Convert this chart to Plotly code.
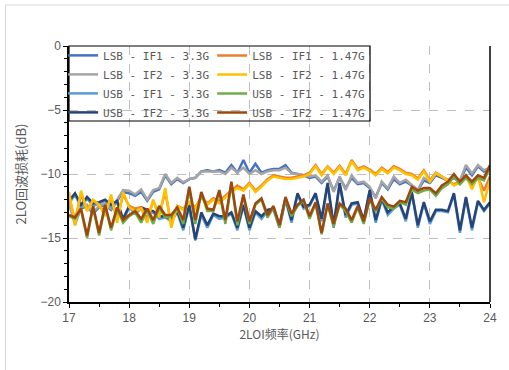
import plotly.graph_objects as go

freq = [17.0, 17.1, 17.2, 17.3, 17.4, 17.5, 17.6, 17.7, 17.8, 17.9,
        18.0, 18.1, 18.2, 18.3, 18.4, 18.5, 18.6, 18.7, 18.8, 18.9,
        19.0, 19.1, 19.2, 19.3, 19.4, 19.5, 19.6, 19.7, 19.8, 19.9,
        20.0, 20.1, 20.2, 20.3, 20.4, 20.5, 20.6, 20.7, 20.8, 20.9,
        21.0, 21.1, 21.2, 21.3, 21.4, 21.5, 21.6, 21.7, 21.8, 21.9,
        22.0, 22.1, 22.2, 22.3, 22.4, 22.5, 22.6, 22.7, 22.8, 22.9,
        23.0, 23.1, 23.2, 23.3, 23.4, 23.5, 23.6, 23.7, 23.8, 23.9,
        24.0]

lsb_if1_33 = [-12.3, -13.8, -12.7, -12.5, -13.1, -12.6, -12.4, -12.8, -12.1, -11.4,
              -11.5, -11.7, -11.4, -12.1, -11.4, -11.2, -10.1, -10.8, -10.4, -10.7,
              -10.4, -10.3, -9.8, -9.7, -9.8, -9.7, -9.9, -9.3, -9.9, -8.9,
              -9.9, -9.2, -9.9, -9.7, -9.6, -9.6, -9.3, -9.9, -10.0, -10.1,
              -10.3, -10.2, -10.7, -10.2, -11.3, -10.3, -11.1, -10.3, -10.8, -10.7,
              -11.1, -11.8, -10.7, -11.2, -10.4, -10.8, -10.6, -10.9, -11.3, -10.5,
              -10.7, -10.1, -10.3, -10.5, -10.3, -10.6, -9.5, -10.1, -9.4, -9.8,
              -9.6]
lsb_if2_33 = [-12.2, -14.0, -12.6, -12.4, -13.0, -12.5, -12.3, -12.7, -12.0, -11.25,
              -11.3, -11.6, -11.2, -12.0, -11.25, -11.1, -10.0, -10.7, -10.3, -10.65,
              -10.4, -10.3, -9.8, -9.8, -9.8, -9.8, -10.0, -9.5, -9.9, -9.5,
              -10.0, -9.7, -10.0, -9.8, -9.7, -9.7, -9.5, -9.95, -10.0, -10.1,
              -10.2, -10.1, -10.6, -10.1, -11.4, -10.2, -11.25, -10.1, -10.7, -10.6,
              -11.0, -11.9, -10.6, -11.1, -10.2, -10.7, -10.45, -10.86, -11.25, -10.3,
              -10.6, -9.95, -10.2, -10.45, -10.2, -10.5, -9.3, -9.95, -9.3, -9.7,
              -9.5]
usb_if1_33 = [-12.3, -11.6, -12.6, -11.9, -12.5, -12.3, -12.1, -12.6, -12.2, -13.7,
              -12.6, -13.1, -12.7, -13.0, -13.0, -13.5, -13.4, -13.7, -13.0, -14.4,
              -12.5, -15.2, -13.2, -14.2, -13.2, -13.5, -13.4, -13.1, -14.4, -12.5,
              -14.4, -13.0, -13.5, -12.9, -12.8, -14.2, -12.0, -13.8, -11.6, -12.7,
              -12.5, -11.6, -13.7, -10.8, -14.2, -10.8, -13.4, -12.4, -12.3, -13.8,
              -11.4, -13.8, -12.0, -13.2, -12.7, -12.4, -13.7, -11.5, -14.2, -12.3,
              -13.9, -12.9, -12.9, -13.0, -11.6, -14.6, -11.9, -14.4, -12.2, -12.9,
              -12.3]
usb_if2_33 = [-12.1, -11.5, -12.4, -11.8, -12.3, -12.2, -12.0, -12.4, -12.1, -13.5,
              -12.5, -12.9, -12.6, -12.8, -12.9, -13.3, -13.3, -13.5, -12.9, -14.2,
              -12.4, -15.1, -13.0, -14.0, -13.1, -13.3, -13.3, -13.0, -14.2, -12.4,
              -14.2, -12.9, -13.3, -12.8, -12.7, -14.0, -11.9, -13.6, -11.5, -12.55,
              -12.4, -11.5, -13.5, -10.7, -14.0, -10.7, -13.2, -12.3, -12.2, -13.6,
              -11.25, -13.6, -11.9, -13.0, -12.55, -12.3, -13.5, -11.4, -14.0, -12.2,
              -13.7, -12.8, -12.8, -12.9, -11.5, -14.4, -11.8, -14.2, -12.1, -12.8,
              -12.2]
lsb_if1_147 = [-11.8, -13.6, -11.6, -12.8, -12.1, -12.4, -13.1, -11.8, -13.5, -11.6,
               -12.5, -12.7, -12.6, -13.5, -12.1, -13.2, -11.4, -13.9, -12.5, -12.7,
               -12.2, -12.6, -11.8, -12.3, -11.9, -12.1, -11.7, -11.3, -10.9, -11.2,
               -10.7, -11.3, -10.9, -10.4, -10.1, -10.2, -10.3, -10.3, -10.2, -10.1,
               -9.9, -9.3, -10.0, -9.4, -9.9, -9.35, -10.0, -8.9, -9.6, -9.4,
               -9.65, -10.0, -9.5, -9.85, -9.4, -9.6, -9.9, -10.0, -10.35, -9.7,
               -10.5, -9.9, -10.2, -10.6, -10.8, -10.6, -10.2, -10.9, -10.3, -11.3,
               -10.2]
lsb_if2_147 = [-11.4, -14.0, -11.3, -12.9, -12.0, -12.4, -13.3, -11.6, -13.8, -11.4,
               -12.6, -12.9, -12.7, -13.8, -12.0, -13.4, -11.1, -14.2, -12.5, -12.8,
               -12.2, -12.7, -11.8, -12.4, -12.0, -12.3, -11.8, -11.4, -11.1, -11.3,
               -10.8, -11.4, -11.0, -10.5, -10.2, -10.3, -10.4, -10.4, -10.3, -10.2,
               -10.0, -9.4, -10.1, -9.45, -10.0, -9.45, -10.1, -9.0, -9.7, -9.5,
               -9.75, -10.1, -9.6, -9.95, -9.5, -9.7, -10.0, -10.1, -10.45, -9.8,
               -10.6, -9.95, -10.2, -10.5, -10.9, -10.7, -10.1, -11.2, -10.1, -12.2,
               -10.5]
usb_if1_147 = [-13.3, -13.5, -12.8, -15.0, -12.6, -14.8, -12.5, -14.4, -12.7, -13.8,
               -13.3, -13.0, -13.8, -12.8, -13.9, -12.6, -13.4, -13.3, -12.7, -13.9,
               -11.1, -13.9, -11.5, -12.9, -12.9, -11.4, -13.9, -10.7, -14.0, -11.7,
               -13.9, -12.4, -12.0, -13.4, -12.6, -14.2, -11.9, -13.3, -12.5, -12.1,
               -13.5, -12.3, -14.7, -12.4, -14.1, -12.4, -12.9, -13.8, -12.6, -13.9,
               -12.0, -12.9, -11.9, -12.6, -12.7, -12.2, -12.4, -11.2, -11.5, -11.3,
               -11.2, -11.7, -11.1, -10.8, -10.2, -10.8, -10.3, -10.8, -10.3, -10.5,
               -9.5]
usb_if2_147 = [-13.2, -13.4, -12.7, -14.8, -12.5, -14.6, -12.4, -14.2, -12.6, -13.6,
               -13.2, -12.9, -13.5, -12.7, -13.6, -12.5, -13.2, -13.2, -12.6, -13.6,
               -11.0, -13.6, -11.4, -12.7, -12.8, -11.25, -13.6, -10.6, -13.7, -11.6,
               -13.7, -12.3, -11.9, -13.2, -12.5, -14.0, -11.8, -13.1, -12.4, -12.0,
               -13.3, -12.2, -14.6, -12.3, -13.9, -12.3, -12.7, -13.6, -12.5, -13.7,
               -11.9, -12.8, -11.8, -12.4, -12.55, -12.1, -12.2, -11.0, -11.3, -11.1,
               -11.1, -11.5, -10.9, -10.6, -10.0, -10.6, -10.1, -10.6, -10.1, -10.3,
               -9.3]

series = [
    ("LSB - IF1 - 3.3G", lsb_if1_33, "#4472C4", "legend"),
    ("LSB - IF2 - 3.3G", lsb_if2_33, "#A5A5A5", "legend"),
    ("USB - IF1 - 3.3G", usb_if1_33, "#5B9BD5", "legend"),
    ("USB - IF2 - 3.3G", usb_if2_33, "#264478", "legend"),
    ("LSB - IF1 - 1.47G", lsb_if1_147, "#ED7D31", "legend2"),
    ("LSB - IF2 - 1.47G", lsb_if2_147, "#FFC000", "legend2"),
    ("USB - IF1 - 1.47G", usb_if1_147, "#70AD47", "legend2"),
    ("USB - IF2 - 1.47G", usb_if2_147, "#9E480E", "legend2"),
]

fig = go.Figure()
for name, vals, color, leg in series:
    fig.add_trace(go.Scatter(x=freq, y=vals, mode="lines", name=name,
                             line=dict(color=color, width=2.5), legend=leg))

tick_font = dict(family="Liberation Sans, Arial, sans-serif", size=12, color="#595959")
ytitle_font = dict(family="Noto Sans CJK SC, sans-serif", size=13, color="#595959")
xtitle_font = dict(family="Noto Sans CJK SC, sans-serif", size=12, color="#595959")
leg_font = dict(family="DejaVu Sans Mono, monospace", size=11, color="#595959")

fig.update_layout(
    width=509, height=370,
    margin=dict(l=69, r=16, t=46, b=68),
    paper_bgcolor="white", plot_bgcolor="white",
    showlegend=True,
    legend=dict(x=-0.014, y=1.02, xanchor="left", yanchor="top",
                bgcolor="rgba(0,0,0,0)", borderwidth=0, font=leg_font,
                tracegroupgap=0),
    legend2=dict(x=0.34, y=1.02, xanchor="left", yanchor="top",
                 bgcolor="rgba(0,0,0,0)", borderwidth=0, font=leg_font,
                 tracegroupgap=0),
    xaxis=dict(range=[17, 24], dtick=1, tick0=17,
               showline=True, linecolor="black", linewidth=1.5,
               ticks="outside", ticklen=4, tickcolor="black", tickwidth=1,
               minor=dict(dtick=0.5, ticks="outside", ticklen=3, tickcolor="black", showgrid=False),
               showgrid=True, gridcolor="#BFBFBF", griddash="dash", gridwidth=1,
               zeroline=False, tickfont=tick_font,
               title=dict(text="2LOI频率(GHz)", font=xtitle_font, standoff=0)),
    yaxis=dict(range=[-20, 0], dtick=5, tick0=0,
               showline=True, linecolor="black", linewidth=1.5,
               ticks="outside", ticklen=4, tickcolor="black", tickwidth=1,
               minor=dict(dtick=1, ticks="outside", ticklen=3, tickcolor="black", showgrid=False),
               showgrid=True, gridcolor="#BFBFBF", griddash="dash", gridwidth=1,
               zeroline=False, tickfont=tick_font,
               title=dict(text="2LO回波损耗(dB)", font=ytitle_font, standoff=11)),
    shapes=[
        dict(type="rect", xref="paper", yref="paper", x0=0, x1=0.715, y0=0.707, y1=1.0,
             line=dict(color="black", width=1.2), fillcolor="rgba(0,0,0,0)", layer="above"),
        dict(type="line", xref="paper", yref="paper", x0=1, x1=1, y0=0, y1=1,
             line=dict(color="black", width=1.5), layer="above"),
        dict(type="line", xref="paper", yref="paper", x0=-0.151, x1=-0.151, y0=-0.5, y1=1.16,
             line=dict(color="#D9D9D9", width=1)),
        dict(type="line", xref="paper", yref="paper", x0=-0.151, x1=1.2, y0=1.16, y1=1.16,
             line=dict(color="#D9D9D9", width=1)),
    ],
)

fig.write_html("out.html")
